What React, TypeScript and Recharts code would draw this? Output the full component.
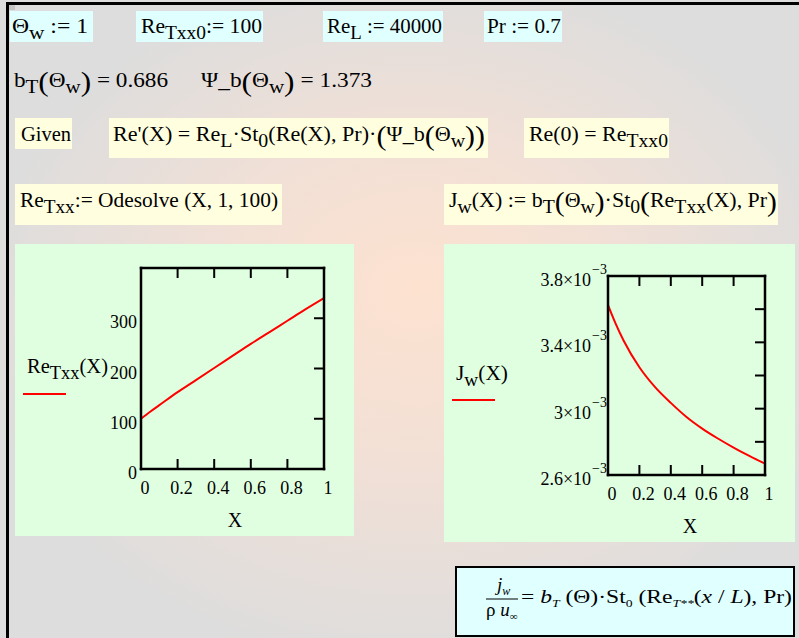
import React from "react";
import { LineChart, Line, XAxis, YAxis } from "recharts";

// values
const xVals = [0, 0.05, 0.1, 0.2, 0.3, 0.4, 0.5, 0.6, 0.7, 0.8, 0.9, 1];
const reTxx = [100, 114, 127, 153, 177, 201, 225, 249, 272, 295, 318, 340];
const jw = [3.625e-3, 3.51e-3, 3.41e-3, 3.25e-3, 3.13e-3, 3.035e-3, 2.95e-3, 2.88e-3, 2.82e-3, 2.765e-3, 2.715e-3, 2.668e-3];

const xTicks = [0, 0.2, 0.4, 0.6, 0.8, 1];
const reLabelTicks = [0, 100, 200, 300];
const reSideTicks = [100, 200, 300];
const jwLabelTicks = [2.6e-3, 3.0e-3, 3.4e-3, 3.8e-3];
const jwSideTicks = [2.8e-3, 3.0e-3, 3.2e-3, 3.4e-3, 3.6e-3];

const reData = xVals.map((x, i) => ({ x, y: reTxx[i] }));
const jwData = xVals.map((x, i) => ({ x, y: jw[i] }));

const SERIF = "Liberation Serif, serif";
const CYAN = "#e0ffff";
const YELLOW = "#ffffe0";
const GREEN = "#e0ffe0";
const tickFont = { fontFamily: SERIF, fontSize: 18, fill: "#000" };
const frame = { stroke: "#000", strokeWidth: 2.5, strokeLinecap: "square" as const };

type Seg = [string, number, number, boolean?];
const N = (t: string): Seg => [t, 20, 0];
const S = (t: string): Seg => [t, 18, 6];
const P = (t: string): Seg => [t, 27, 4];

function MathText({ x, y, segs, anchor, w }: { x: number; y: number; segs: Seg[]; anchor?: string; w?: number }) {
  let prev = 0;
  return (
    <text x={x} y={y} fill="#000" fontFamily={SERIF} textAnchor={anchor} textLength={w}
      lengthAdjust={w ? "spacingAndGlyphs" : undefined} style={{ whiteSpace: "pre", fontFamily: SERIF }}>
      {segs.map(([t, size, off, it], i) => {
        const dy = off - prev;
        prev = off;
        return (
          <tspan key={i} dy={dy} style={{ fontSize: size, fontStyle: it ? "italic" : "normal" }}>
            {t}
          </tspan>
        );
      })}
    </text>
  );
}

const BottomTick = (p: any) => {
  const v = p.payload.value;
  return (
    <g>
      {v > 0 && v < 1 && <line x1={p.x} y1={p.y} x2={p.x} y2={p.y - 10} stroke="#000" strokeWidth={2} />}
      <text x={p.x + 4} y={p.y + 25} textAnchor="middle" style={tickFont}>
        {String(v)}
      </text>
    </g>
  );
};

const TopTick = (p: any) => {
  const v = p.payload.value;
  if (v <= 0 || v >= 1) return <g />;
  return <line x1={p.x} y1={p.y} x2={p.x} y2={p.y + 10} stroke="#000" strokeWidth={2} />;
};

const RightTick = (p: any) => <line x1={p.x} y1={p.y} x2={p.x - 10} y2={p.y} stroke="#000" strokeWidth={2} />;

const ReLeftTick = (p: any) => (
  <text x={p.x - 4} y={p.y + 10} textAnchor="end" style={tickFont}>
    {String(p.payload.value)}
  </text>
);

const JwLeftTick = (p: any) => {
  const m = +(p.payload.value * 1000).toFixed(1);
  return (
    <text x={p.x - 1} y={p.y + 10} textAnchor="end" style={tickFont}>
      {`${m}×10`}
      <tspan dx={1} dy={-12} style={{ fontSize: 14 }}>
        −3
      </tspan>
    </text>
  );
};

function FramePlot({
  data,
  width,
  height,
  top,
  yWidth,
  domain,
  labelTicks,
  sideTicks,
  leftTick,
}: {
  data: { x: number; y: number }[];
  width: number;
  height: number;
  top: number;
  yWidth: number;
  domain: [number, number];
  labelTicks: number[];
  sideTicks: number[];
  leftTick: (p: any) => React.ReactElement;
}) {
  // top and right axes are 1px thick so that they still render as the frame
  return (
    <LineChart width={width} height={height} data={data} margin={{ top: top - 1, right: 29, bottom: 0, left: 0 }}>
      <XAxis xAxisId="b" dataKey="x" type="number" domain={[0, 1]} ticks={xTicks} interval={0} height={67}
        tickSize={0} tickMargin={0} tickLine={false} axisLine={frame} tick={BottomTick} allowDataOverflow />
      <XAxis xAxisId="t" dataKey="x" type="number" domain={[0, 1]} ticks={xTicks} interval={0} orientation="top"
        height={1} tickSize={0} tickMargin={0} tickLine={false} axisLine={frame} tick={TopTick} allowDataOverflow />
      <YAxis yAxisId="l" type="number" domain={domain} ticks={labelTicks} interval={0} width={yWidth}
        tickSize={0} tickMargin={0} tickLine={false} axisLine={frame} tick={leftTick} allowDataOverflow />
      <YAxis yAxisId="r" type="number" domain={domain} ticks={sideTicks} interval={0} orientation="right" width={1}
        tickSize={0} tickMargin={0} tickLine={false} axisLine={frame} tick={RightTick} allowDataOverflow />
      <Line xAxisId="t" yAxisId="r" type="monotone" dataKey="y" stroke="none" dot={false} activeDot={false}
        legendType="none" isAnimationActive={false} />
      <Line xAxisId="b" yAxisId="l" type="monotone" dataKey="y" stroke="#ff0000" strokeWidth={2} dot={false}
        isAnimationActive={false} />
    </LineChart>
  );
}

const cyanBoxes = [
  [10, 11, 83, 31],
  [136, 11, 127, 31],
  [323, 11, 120, 31],
  [484, 11, 78, 31],
];
const yellowBoxes = [
  [15, 118, 57, 31],
  [109, 118, 379, 40],
  [524, 118, 145, 40],
  [15, 184, 267, 41],
  [444, 184, 334, 41],
];

export default function App() {
  return (
    <div style={{ position: "absolute", left: 0, top: 0, width: 799, height: 638, overflow: "hidden" }}>
      <svg width={799} height={638} style={{ position: "absolute", left: 0, top: 0 }}>
        <defs>
          <radialGradient id="glow" cx="52%" cy="50%" r="55%" fx="52%" fy="45%">
            <stop offset="0%" stopColor="#fde2d0" />
            <stop offset="45%" stopColor="#f2e0d6" />
            <stop offset="100%" stopColor="#dddddd" />
          </radialGradient>
        </defs>
        <rect x={0} y={0} width={799} height={638} fill="url(#glow)" />
        <rect x={6} y={2} width={793} height={3} fill="#000" />
        <rect x={6} y={2} width={3} height={636} fill="#000" />
        <rect x={9} y={5} width={6} height={5} fill="#c4c4c4" />

        {cyanBoxes.map(([x, y, w, h], i) => (
          <rect key={"c" + i} x={x} y={y} width={w} height={h} fill={CYAN} />
        ))}
        {yellowBoxes.map(([x, y, w, h], i) => (
          <rect key={"y" + i} x={x} y={y} width={w} height={h} fill={YELLOW} />
        ))}
        <rect x={15} y={244} width={339} height={292} fill={GREEN} />
        <rect x={444} y={244} width={351} height={298} fill={GREEN} />

        <MathText x={12} y={33} w={76} segs={[N("Θ"), S("w"), N(" := 1")]} />
        <MathText x={141} y={33} w={121} segs={[N("Re"), S("Txx0"), N(":= 100")]} />
        <MathText x={327} y={33} w={115} segs={[N("Re"), S("L"), N(" := 40000")]} />
        <MathText x={487} y={33} w={74} segs={[N("Pr := 0.7")]} />

        <MathText x={14} y={87} w={154} segs={[N("b"), S("T"), P("("), N("Θ"), S("w"), P(")"), N(" = 0.686")]} />
        <MathText x={201} y={87} w={171} segs={[N("Ψ_b"), P("("), N("Θ"), S("w"), P(")"), N(" = 1.373")]} />

        <MathText x={21} y={141} w={50} segs={[N("Given")]} />
        <MathText
          x={113}
          y={141}
          w={372}
          segs={[N("Re'(X) = Re"), S("L"), N("·St"), S("0"), N("(Re(X), Pr)·"), P("("), N("Ψ_b"), P("("), N("Θ"), S("w"), P("))")]}
        />
        <MathText x={529} y={141} w={139} segs={[N("Re(0) = Re"), S("Txx0")]} />

        <MathText x={20} y={207} w={258} segs={[N("Re"), S("Txx"), N(":= Odesolve (X, 1, 100)")]} />
        <MathText
          x={449}
          y={207}
          w={328}
          segs={[N("J"), S("w"), N("(X) := b"), S("T"), P("("), N("Θ"), S("w"), P(")"), N("·St"), S("0"), P("("), N("Re"), S("Txx"), N("(X), Pr"), P(")")]}
        />

        <MathText x={27} y={373} w={81} segs={[N("Re"), S("Txx"), N("(X)")]} />
        <line x1={23} y1={394} x2={66} y2={394} stroke="#ff0000" strokeWidth={2} />
        <MathText x={456} y={380} w={52} segs={[N("J"), S("w"), N("(X)")]} />
        <line x1={452} y1={400} x2={495} y2={400} stroke="#ff0000" strokeWidth={2} />
        <MathText x={235} y={527} anchor="middle" segs={[N("X")]} />
        <MathText x={690} y={533} anchor="middle" segs={[N("X")]} />

        <rect x={456} y={567} width={338} height={69} fill={CYAN} stroke="#000" strokeWidth={2} />
        <MathText x={497} y={591} segs={[["j", 19, 0, true], ["w", 12, 4, true]]} />
        <line x1={486} y1={599} x2={518} y2={599} stroke="#000" strokeWidth={1} />
        <MathText x={486} y={616} segs={[["ρ ", 19, 0], ["u", 19, 0, true], ["∞", 11, 4]]} />
        <MathText
          x={521}
          y={603}
          w={271}
          segs={[
            ["= ", 19, 0],
            ["b", 19, 0, true],
            ["T", 11, 4, true],
            [" (Θ)·St", 19, 0],
            ["0", 11, 4],
            [" (Re", 19, 0],
            ["T**", 11, 4, true],
            ["(", 19, 0],
            ["x", 19, 0, true],
            [" / ", 19, 0],
            ["L", 19, 0, true],
            ["), Pr)", 19, 0],
          ]}
        />
      </svg>

      <div style={{ position: "absolute", left: 15, top: 244 }}>
        <FramePlot data={reData} width={339} height={292} top={24} yWidth={126} domain={[0, 400]}
          labelTicks={reLabelTicks} sideTicks={reSideTicks} leftTick={ReLeftTick} />
      </div>
      <div style={{ position: "absolute", left: 444, top: 244 }}>
        <FramePlot data={jwData} width={351} height={298} top={32} yWidth={164} domain={[2.6e-3, 3.8e-3]}
          labelTicks={jwLabelTicks} sideTicks={jwSideTicks} leftTick={JwLeftTick} />
      </div>
    </div>
  );
}
